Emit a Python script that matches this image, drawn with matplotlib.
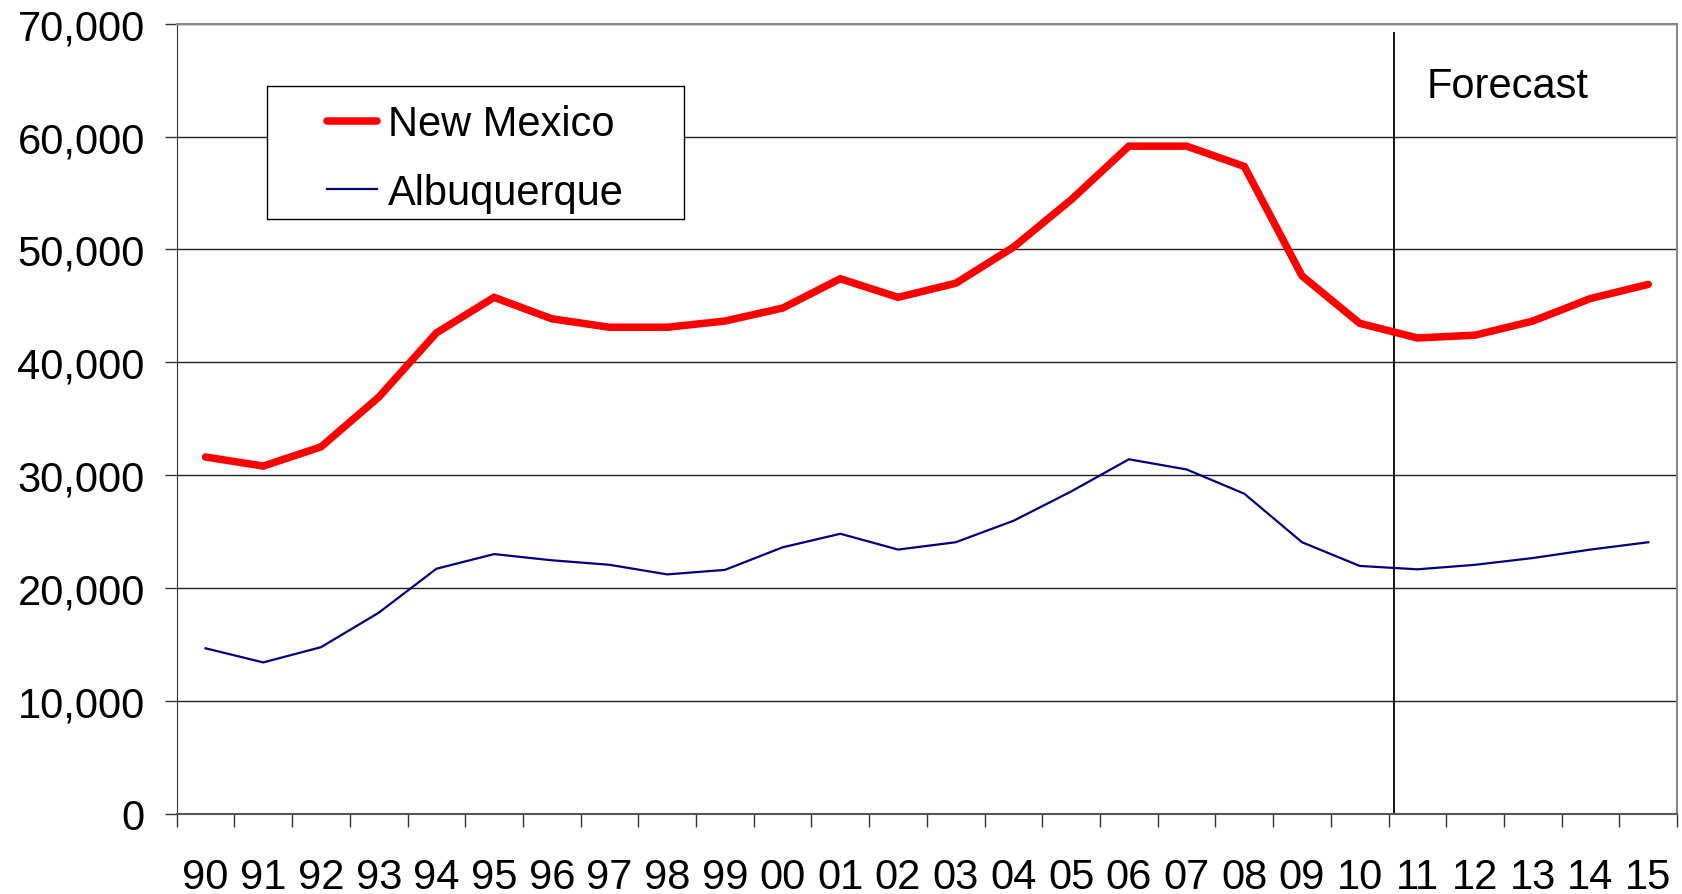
import numpy as np
import matplotlib
matplotlib.use("Agg")
import matplotlib.pyplot as plt
from matplotlib.patches import Rectangle
from matplotlib.ticker import FuncFormatter, MultipleLocator

plt.rcParams['font.family'] = ['Liberation Sans', 'DejaVu Sans']

# years 1990 - 2015
years = ['90', '91', '92', '93', '94', '95', '96', '97', '98', '99', '00', '01', '02',
         '03', '04', '05', '06', '07', '08', '09', '10', '11', '12', '13', '14', '15']

new_mexico = [31600, 30800, 32500, 36900, 42600, 45750, 43850, 43100, 43100, 43650,
              44800, 47400, 45750, 47000, 50200, 54400, 59150, 59150, 57350, 47650,
              43450, 42150, 42400, 43650, 45650, 46900]

albuquerque = [14650, 13400, 14750, 17800, 21700, 23000, 22450, 22050, 21200, 21600,
               23600, 24800, 23400, 24050, 25950, 28550, 31400, 30500, 28350, 24050,
               21950, 21650, 22050, 22650, 23400, 24050]

forecast_x = 20.6  # just after the 10/11 boundary

fig = plt.figure(figsize=(16.83, 8.95), dpi=100)
ax = fig.add_axes([0.105, 0.0898, 0.8915, 0.8826])

x = np.arange(len(years))

ax.plot(x, new_mexico, color='#ff0000', lw=5.4, solid_capstyle='round',
        solid_joinstyle='miter', label='New Mexico', zorder=3)
ax.plot(x, albuquerque, color='#000080', lw=1.6, label='Albuquerque', zorder=3)

ax.vlines(forecast_x, 0, 69300, color='black', lw=1.3, zorder=2)
ax.text(22.56, 64500, 'Forecast', ha='center', va='center', fontsize=30)

ax.set_xlim(-0.5, len(years) - 0.5)
ax.set_ylim(0, 70000)

ax.yaxis.set_major_locator(MultipleLocator(10000))
ax.yaxis.set_major_formatter(FuncFormatter(lambda v, p: f'{int(v):,}'))
ax.grid(axis='y', color='#222222', lw=1.0)
ax.set_axisbelow(True)

ax.set_xticks(x)
ax.set_xticklabels(years)
ax.set_xticks(np.arange(-0.5, len(years)), minor=True)
ax.tick_params(axis='x', which='major', length=0, pad=31, labelsize=30)
ax.tick_params(axis='x', which='minor', length=9.5, width=1, color='#333333')
ax.tick_params(axis='y', length=9, width=1, color='#333333', labelsize=30, pad=14)

for side in ['top', 'right']:
    ax.spines[side].set_color('#888888')
    ax.spines[side].set_linewidth(1.5)
ax.spines['left'].set_color('#333333')
ax.spines['bottom'].set_color('#555555')
ax.spines['bottom'].set_linewidth(1.5)

# legend box drawn separately so the padding matches the original
ax.add_patch(Rectangle((0.0601, 0.7527), 0.2782, 0.1685, transform=ax.transAxes,
                       facecolor='white', edgecolor='black', lw=1.0, zorder=4))
leg = ax.legend(loc='upper left', bbox_to_anchor=(0.1001, 0.898), borderaxespad=0,
                fontsize=30, frameon=False, handlelength=1.21, handletextpad=0.26,
                labelspacing=0.68, borderpad=0)
leg.set_zorder(5)

fig.savefig('out.png', dpi=100, facecolor='white')
